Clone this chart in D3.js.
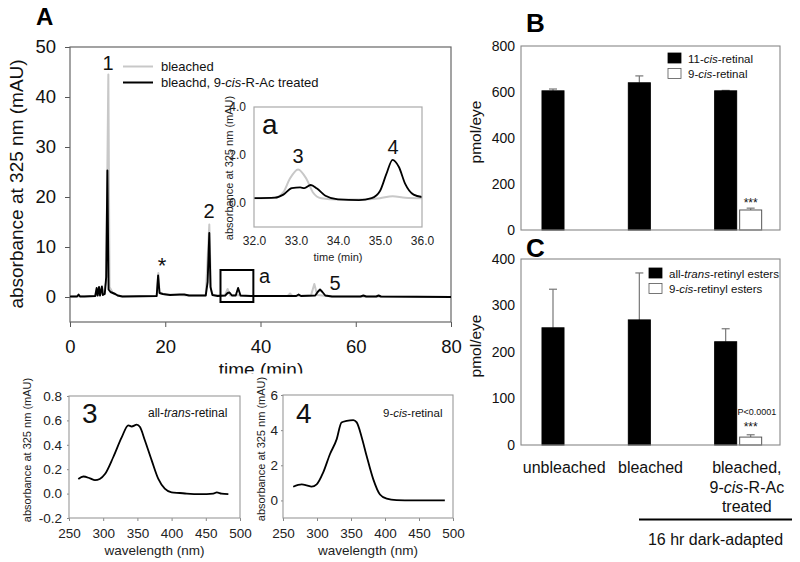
<!DOCTYPE html>
<html><head><meta charset="utf-8">
<script src="https://cdn.jsdelivr.net/npm/d3@7"></script>
<style>body{margin:0;background:#fff} svg{display:block}</style>
</head><body><svg id="c" width="800" height="562"></svg>
<script>
// ---------------- DATA ----------------
// Panel A chromatogram (time in min, absorbance in mAU)
const chromTimeGray = [0,5.3,5.6,5.8,6.1,6.3,6.7,6.9,7.6,8.05,8.3,9,10,11,18.2,18.55,18.8,20,25,28.5,29.25,29.6,30,32.5,33.1,33.6,35.3,36,45.7,46.2,46.7,50.6,51.3,51.9,53,55,80];
const chromAbsGray  = [0.1,0.2,1.5,0.3,1.8,0.3,1.9,0.4,3,44.5,2,0.8,0.3,0.1,0.2,4.8,0.8,0.5,0.3,0.3,14.5,1.5,0.4,0.3,1.6,0.3,0.4,0.2,0.2,0.7,0.2,0.3,2.6,0.4,0.3,0.1,0];
const chromTimeBlack = [0,1.5,1.8,2.1,3,5.3,5.6,5.8,6.1,6.3,6.7,6.9,7.3,7.6,7.85,8.1,8.5,9,9.5,10,11,18.2,18.5,18.8,19.5,21,23,24,25,28.5,28.9,29.25,29.5,29.9,31,32.6,33.1,33.5,34,34.8,35.3,35.8,38,44,47.5,48,48.5,51.5,52,52.5,53,53.6,55,61,61.6,62.2,64.3,64.8,65.3,80];
const chromAbsBlack  = [0.1,0.1,0.5,0.1,0.1,0.2,1.8,0.3,2,0.3,2.1,0.4,0.6,4,25.3,1.5,1.0,0.8,0.6,0.3,0.1,0.2,4.3,0.8,0.6,0.4,0.5,0.5,0.3,0.3,3,12.8,2,0.4,0.2,0.3,0.8,0.9,0.3,0.3,1.8,0.3,0.2,0.2,0.2,0.5,0.2,0.3,1.0,1.5,1.0,0.3,0.1,0.1,0.3,0.1,0.1,0.3,0.1,0.0];
const chromXTicks = [0,20,40,60,80];
const chromYTicks = [0,10,20,30,40,50];
const zoomBoxTime = [31.6,38.5];
const zoomBoxAbs = [-1,5.4];

// Inset a
const insetTimeGray = [32,32.5,32.7,32.85,33.05,33.25,33.4,33.6,34,34.5,35,35.3,35.6,36];
const insetAbsGray  = [0.2,0.22,0.45,1.0,1.4,1.0,0.45,0.2,0.15,0.15,0.2,0.28,0.22,0.2];
const insetTimeBlack = [32,32.5,32.7,32.9,33.1,33.2,33.35,33.5,33.7,34,34.5,34.8,35,35.15,35.3,35.45,35.6,35.8,36];
const insetAbsBlack  = [0.2,0.22,0.35,0.62,0.65,0.62,0.75,0.6,0.3,0.15,0.12,0.2,0.5,1.2,1.8,1.5,0.8,0.35,0.25];
const insetXTicks = [32,33,34,35,36];
const insetYTicks = [0,2,4];

// Spectra
const spec3Wavelength = [263.6,271,280.7,288,295,302.6,314.8,327,336.7,341.6,349,353.8,361,371,380.6,390,400,412,422,441.5,461,466,473,483];
const spec3Abs        = [0.12,0.14,0.125,0.11,0.12,0.16,0.30,0.46,0.56,0.55,0.565,0.545,0.435,0.27,0.12,0.04,0.01,0.005,0.0,-0.005,0.0,0.01,0.0,-0.005];
const spec4Wavelength = [265,277.5,284.8,292,299.5,309,319,329,336,343.7,353.4,358.4,365.7,373,382.8,392.6,402.5,417,441.6,488];
const spec4Abs        = [0.78,0.91,0.86,0.78,0.91,1.58,2.63,3.49,4.44,4.53,4.57,4.44,3.6,2.53,1.2,0.34,0.1,0.02,0.0,0.0];
const specXTicks = [250,300,350,400,450,500];
const spec3YTicks = [-0.2,0,0.2,0.4,0.6,0.8];
const spec4YTicks = [0,2,4,6];

// Panels B and C
const categories = ["unbleached","bleached","bleached9"];
const retinal11cis = [605,640,605];
const retinal11cisErr = [8,30,2];
const retinal9cis = [null,null,87];
const retinal9cisErr = [null,null,8];
const esterAllTrans = [252,269,222];
const esterAllTransErr = [83,101,28];
const ester9cis = [null,null,17];
const ester9cisErr = [null,null,5];
const bYTicks = [0,200,400,600,800];
const cYTicks = [0,100,200,300,400];

// ---------------- DRAW ----------------
const FONT = "'Liberation Sans', Arial, Helvetica, sans-serif";
const svg = d3.select("#c").attr("font-family", FONT);
svg.append("rect").attr("width",800).attr("height",562).attr("fill","#fff");

function rich(parent, x, y, parts, size, anchor, extra) {
  const t = parent.append("text").attr("x",x).attr("y",y).attr("font-size",size)
    .attr("text-anchor",anchor||"start").attr("fill","#111");
  parts.forEach(p => { const s = t.append("tspan").text(p[0]); if (p[1]) s.attr("font-style","italic"); });
  if (extra) extra(t);
  return t;
}
function styleAxis(g, color, size, tcolor) {
  g.attr("font-family", FONT).attr("font-size", size);
  g.select(".domain").remove();
  g.selectAll(".tick line").attr("stroke", color);
  g.selectAll(".tick text").attr("fill", tcolor || "#111");
}
const line = (x, y) => d3.line().x(d => x(d[0])).y(d => y(d[1]));
const zip = (a, b) => a.map((v, i) => [v, b[i]]);

// ===== Panel A =====
const xA = d3.scaleLinear([0,80],[70,451]);
const yA = d3.scaleLinear([-5,50],[322,47]);
svg.append("text").attr("x",36).attr("y",25).attr("font-size",24).attr("font-weight","bold").text("A");
svg.append("g").attr("transform","translate(70,0)")
  .call(d3.axisLeft(yA).tickValues(chromYTicks).tickSize(5).tickPadding(9).tickSizeOuter(0))
  .call(g => styleAxis(g, "#555", 18.5));
svg.append("g").attr("transform","translate(0,322)")
  .call(d3.axisBottom(xA).tickValues(chromXTicks).tickSize(5).tickPadding(13).tickSizeOuter(0))
  .call(g => styleAxis(g, "#555", 18.5));
svg.append("rect").attr("x",70).attr("y",47).attr("width",381).attr("height",275)
  .attr("fill","none").attr("stroke","#666").attr("stroke-width",1.2);
svg.append("text").attr("transform","translate(23,184) rotate(-90)").attr("text-anchor","middle")
  .attr("font-size",19).attr("fill","#111").text("absorbance at 325 nm (mAU)");
svg.append("clipPath").attr("id","clipT").append("rect").attr("x",0).attr("y",0).attr("width",800).attr("height",373.5);
svg.append("text").attr("x",261).attr("y",376).attr("text-anchor","middle").attr("font-size",19)
  .attr("fill","#111").attr("clip-path","url(#clipT)").text("time (min)");

svg.append("path").datum(zip(chromTimeGray, chromAbsGray)).attr("d", line(xA,yA))
  .attr("fill","none").attr("stroke","#c8c8c8").attr("stroke-width",2).attr("stroke-linejoin","round");
svg.append("path").datum(zip(chromTimeBlack, chromAbsBlack)).attr("d", line(xA,yA))
  .attr("fill","none").attr("stroke","#000").attr("stroke-width",1.9).attr("stroke-linejoin","round");

// zoom box
svg.append("rect").attr("x",xA(zoomBoxTime[0])).attr("y",yA(zoomBoxAbs[1]))
  .attr("width",xA(zoomBoxTime[1])-xA(zoomBoxTime[0])).attr("height",yA(zoomBoxAbs[0])-yA(zoomBoxAbs[1]))
  .attr("fill","none").attr("stroke","#000").attr("stroke-width",2);
svg.append("text").attr("x",259).attr("y",283).attr("font-size",20).attr("fill","#111").text("a");
// peak labels
svg.append("text").attr("x",108).attr("y",70).attr("text-anchor","middle").attr("font-size",20).attr("fill","#111").text("1");
svg.append("text").attr("x",209).attr("y",218).attr("text-anchor","middle").attr("font-size",20).attr("fill","#111").text("2");
svg.append("text").attr("x",162).attr("y",273).attr("text-anchor","middle").attr("font-size",22).attr("fill","#111").text("*");
svg.append("text").attr("x",335).attr("y",290).attr("text-anchor","middle").attr("font-size",20).attr("fill","#111").text("5");

// legend A
svg.append("line").attr("x1",123).attr("x2",153).attr("y1",66.5).attr("y2",66.5).attr("stroke","#c8c8c8").attr("stroke-width",2);
svg.append("line").attr("x1",123).attr("x2",153).attr("y1",82.5).attr("y2",82.5).attr("stroke","#000").attr("stroke-width",2);
rich(svg,161,71,[["bleached",0]],13);
rich(svg,161,87,[["bleachd, 9-",0],["cis",1],["-R-Ac treated",0]],13);

// ===== Inset a =====
const xI = d3.scaleLinear([32,36],[254,422]);
const yI = d3.scaleLinear([-1,4],[227,107]);
svg.append("rect").attr("x",254).attr("y",107).attr("width",168).attr("height",120).attr("fill","#fff");
svg.append("clipPath").attr("id","clipI").append("rect").attr("x",254).attr("y",107).attr("width",168).attr("height",120);
svg.append("g").attr("transform","translate(254,0)")
  .call(d3.axisLeft(yI).tickValues(insetYTicks).tickSize(0).tickPadding(8))
  .call(g => styleAxis(g, "#999", 12, "#222"));
svg.append("g").attr("transform","translate(0,227)")
  .call(d3.axisBottom(xI).tickValues(insetXTicks).tickSize(0).tickPadding(9))
  .call(g => styleAxis(g, "#999", 12, "#222"));
const gi = svg.append("g").attr("clip-path","url(#clipI)");
gi.append("path").datum(zip(insetTimeGray, insetAbsGray)).attr("d", line(xI,yI).curve(d3.curveMonotoneX))
  .attr("fill","none").attr("stroke","#c8c8c8").attr("stroke-width",2);
gi.append("path").datum(zip(insetTimeBlack, insetAbsBlack)).attr("d", line(xI,yI).curve(d3.curveMonotoneX))
  .attr("fill","none").attr("stroke","#000").attr("stroke-width",1.8);
svg.append("rect").attr("x",254).attr("y",107).attr("width",168).attr("height",120)
  .attr("fill","none").attr("stroke","#aaa").attr("stroke-width",1.2);
svg.append("text").attr("transform","translate(233,168) rotate(-90)").attr("text-anchor","middle")
  .attr("font-size",11).attr("fill","#222").text("absorbance at 325 nm (mAU)");
svg.append("text").attr("x",338).attr("y",261).attr("text-anchor","middle").attr("font-size",11).attr("fill","#222").text("time (min)");
svg.append("text").attr("x",262).attr("y",134).attr("font-size",28).attr("fill","#111").text("a");
svg.append("text").attr("x",298).attr("y",163).attr("text-anchor","middle").attr("font-size",20).attr("fill","#111").text("3");
svg.append("text").attr("x",393).attr("y",154).attr("text-anchor","middle").attr("font-size",20).attr("fill","#111").text("4");

// ===== Spectra panels =====
function spectrum(x0, x1, yScale, ticks, fmt, wl, ab, num, nameParts, nameX, nameSize, labelX, labelY, pad) {
  const x = d3.scaleLinear([250,500],[x0,x1]);
  const [yb, yt] = yScale.range();
  svg.append("g").attr("transform",`translate(${x0},0)`)
    .call(d3.axisLeft(yScale).tickValues(ticks).tickFormat(fmt).tickSize(2).tickPadding(pad))
    .call(g => styleAxis(g, "#888", 13.5, "#222"));
  svg.append("g").attr("transform",`translate(0,${yb})`)
    .call(d3.axisBottom(x).tickValues(specXTicks).tickSize(3).tickPadding(7))
    .call(g => styleAxis(g, "#888", 13.5, "#222"));
  svg.append("rect").attr("x",x0).attr("y",yt).attr("width",x1-x0).attr("height",yb-yt)
    .attr("fill","none").attr("stroke","#999").attr("stroke-width",1.1);
  svg.append("path").datum(zip(wl, ab)).attr("d", line(x,yScale).curve(d3.curveMonotoneX))
    .attr("fill","none").attr("stroke","#000").attr("stroke-width",1.8);
  svg.append("text").attr("x",(x0+x1)/2).attr("y",555).attr("text-anchor","middle").attr("font-size",13.5)
    .attr("fill","#222").text("wavelength (nm)");
  svg.append("text").attr("transform",`translate(${labelX},${labelY}) rotate(-90)`).attr("text-anchor","middle")
    .attr("font-size",11).attr("fill","#222").text("absorbance at 325 nm (mAU)");
  svg.append("text").attr("x",x0+13).attr("y",423).attr("font-size",28).attr("fill","#111").text(num);
  rich(svg, nameX, 417, nameParts, nameSize);
}
spectrum(69, 240, d3.scaleLinear([-0.2,0.8],[518,396]), spec3YTicks, d => d.toFixed(1),
  spec3Wavelength, spec3Abs, "3", [["all-",0],["trans",1],["-retinal",0]], 148, 12, 31, 450, 5);
spectrum(283, 453, d3.scaleLinear([-1,6],[518,395]), spec4YTicks, d => d,
  spec4Wavelength, spec4Abs, "4", [["9-",0],["cis",1],["-retinal",0]], 383, 11.5, 265, 449, 3);

// ===== Bars panels =====
const xB = d3.scaleBand(categories, [521,780]);
const xSub = d3.scaleBand(["a","b"], [21,68]).paddingInner(0.12);
function barPanel(yTop, yBot, maxV, ticks, blackVals, blackErr, whiteVals, whiteErr, letter, letterY, legend, legX, legY, starsY) {
  const y = d3.scaleLinear([0,maxV],[yBot,yTop]);
  svg.append("g").attr("transform","translate(521,0)")
    .call(d3.axisLeft(y).tickValues(ticks).tickSize(0).tickPadding(6))
    .call(g => styleAxis(g, "#888", 14, "#111"));
  const g = svg.append("g");
  const drawBars = (vals, errs, key, fill) => {
    categories.forEach((c, i) => {
      if (vals[i] == null) return;
      const bx = xB(c) + xSub(key), bw = xSub.bandwidth();
      const cx = bx + bw/2;
      g.append("line").attr("x1",cx).attr("x2",cx).attr("y1",y(vals[i])).attr("y2",y(vals[i]+errs[i])).attr("stroke","#777").attr("stroke-width",1.2);
      g.append("line").attr("x1",cx-4).attr("x2",cx+4).attr("y1",y(vals[i]+errs[i])).attr("y2",y(vals[i]+errs[i])).attr("stroke","#777").attr("stroke-width",1.2);
      g.append("rect").attr("x",bx).attr("y",y(vals[i])).attr("width",bw).attr("height",yBot-y(vals[i]))
        .attr("fill",fill).attr("stroke", fill === "#000" ? "#000" : "#555").attr("stroke-width",1);
      if (fill !== "#000") {
        svg.append("text").attr("x",cx).attr("y",starsY).attr("text-anchor","middle").attr("font-size",12).attr("fill","#111").text("***");
      }
    });
  };
  drawBars(blackVals, blackErr, "a", "#000");
  drawBars(whiteVals, whiteErr, "b", "#fff");
  svg.append("rect").attr("x",521).attr("y",yTop).attr("width",259).attr("height",yBot-yTop)
    .attr("fill","none").attr("stroke","#888").attr("stroke-width",1.1);
  svg.append("text").attr("x",526).attr("y",letterY).attr("font-size",26).attr("font-weight","bold").text(letter);
  svg.append("text").attr("transform",`translate(481,${(yTop+yBot)/2 - 6}) rotate(-90)`).attr("text-anchor","middle")
    .attr("font-size",15.5).attr("fill","#111").text("pmol/eye");
  // legend
  legend.forEach((parts, i) => {
    const ly = legY + i*15.5;
    svg.append("rect").attr("x",legX).attr("y",ly).attr("width",13).attr("height",10)
      .attr("fill", i === 0 ? "#000" : "#fff").attr("stroke", i === 0 ? "#000" : "#555").attr("stroke-width",0.8);
    rich(svg, legX + 20, ly + 9.5, parts, 11.5);
  });
  return y;
}
barPanel(46, 230, 800, bYTicks, retinal11cis, retinal11cisErr, retinal9cis, retinal9cisErr, "B", 32,
  [[["11-",0],["cis",1],["-retinal",0]], [["9-",0],["cis",1],["-retinal",0]]], 668, 53, 207);
barPanel(259, 445, 400, cYTicks, esterAllTrans, esterAllTransErr, ester9cis, ester9cisErr, "C", 257,
  [[["all-",0],["trans",1],["-retinyl esters",0]], [["9-",0],["cis",1],["-retinyl esters",0]]], 649, 268, 431);
svg.append("text").attr("x",757).attr("y",415).attr("text-anchor","middle").attr("font-size",9).attr("fill","#111").text("P<0.0001");

// category labels
const catC = c => xB(c) + xB.bandwidth()/2;
rich(svg, catC("unbleached"), 473, [["unbleached",0]], 16, "middle");
rich(svg, catC("bleached"), 473, [["bleached",0]], 16, "middle");
const c3 = catC("bleached9") + 10;
rich(svg, c3, 473, [["bleached,",0]], 16, "middle");
rich(svg, c3, 493, [["9-",0],["cis",1],["-R-Ac",0]], 16, "middle");
rich(svg, c3, 512, [["treated",0]], 16, "middle");
svg.append("line").attr("x1",639).attr("x2",792).attr("y1",519.5).attr("y2",519.5).attr("stroke","#000").attr("stroke-width",2.2);
rich(svg, 715.5, 545, [["16 hr dark-adapted",0]], 16, "middle");
</script></body></html>
